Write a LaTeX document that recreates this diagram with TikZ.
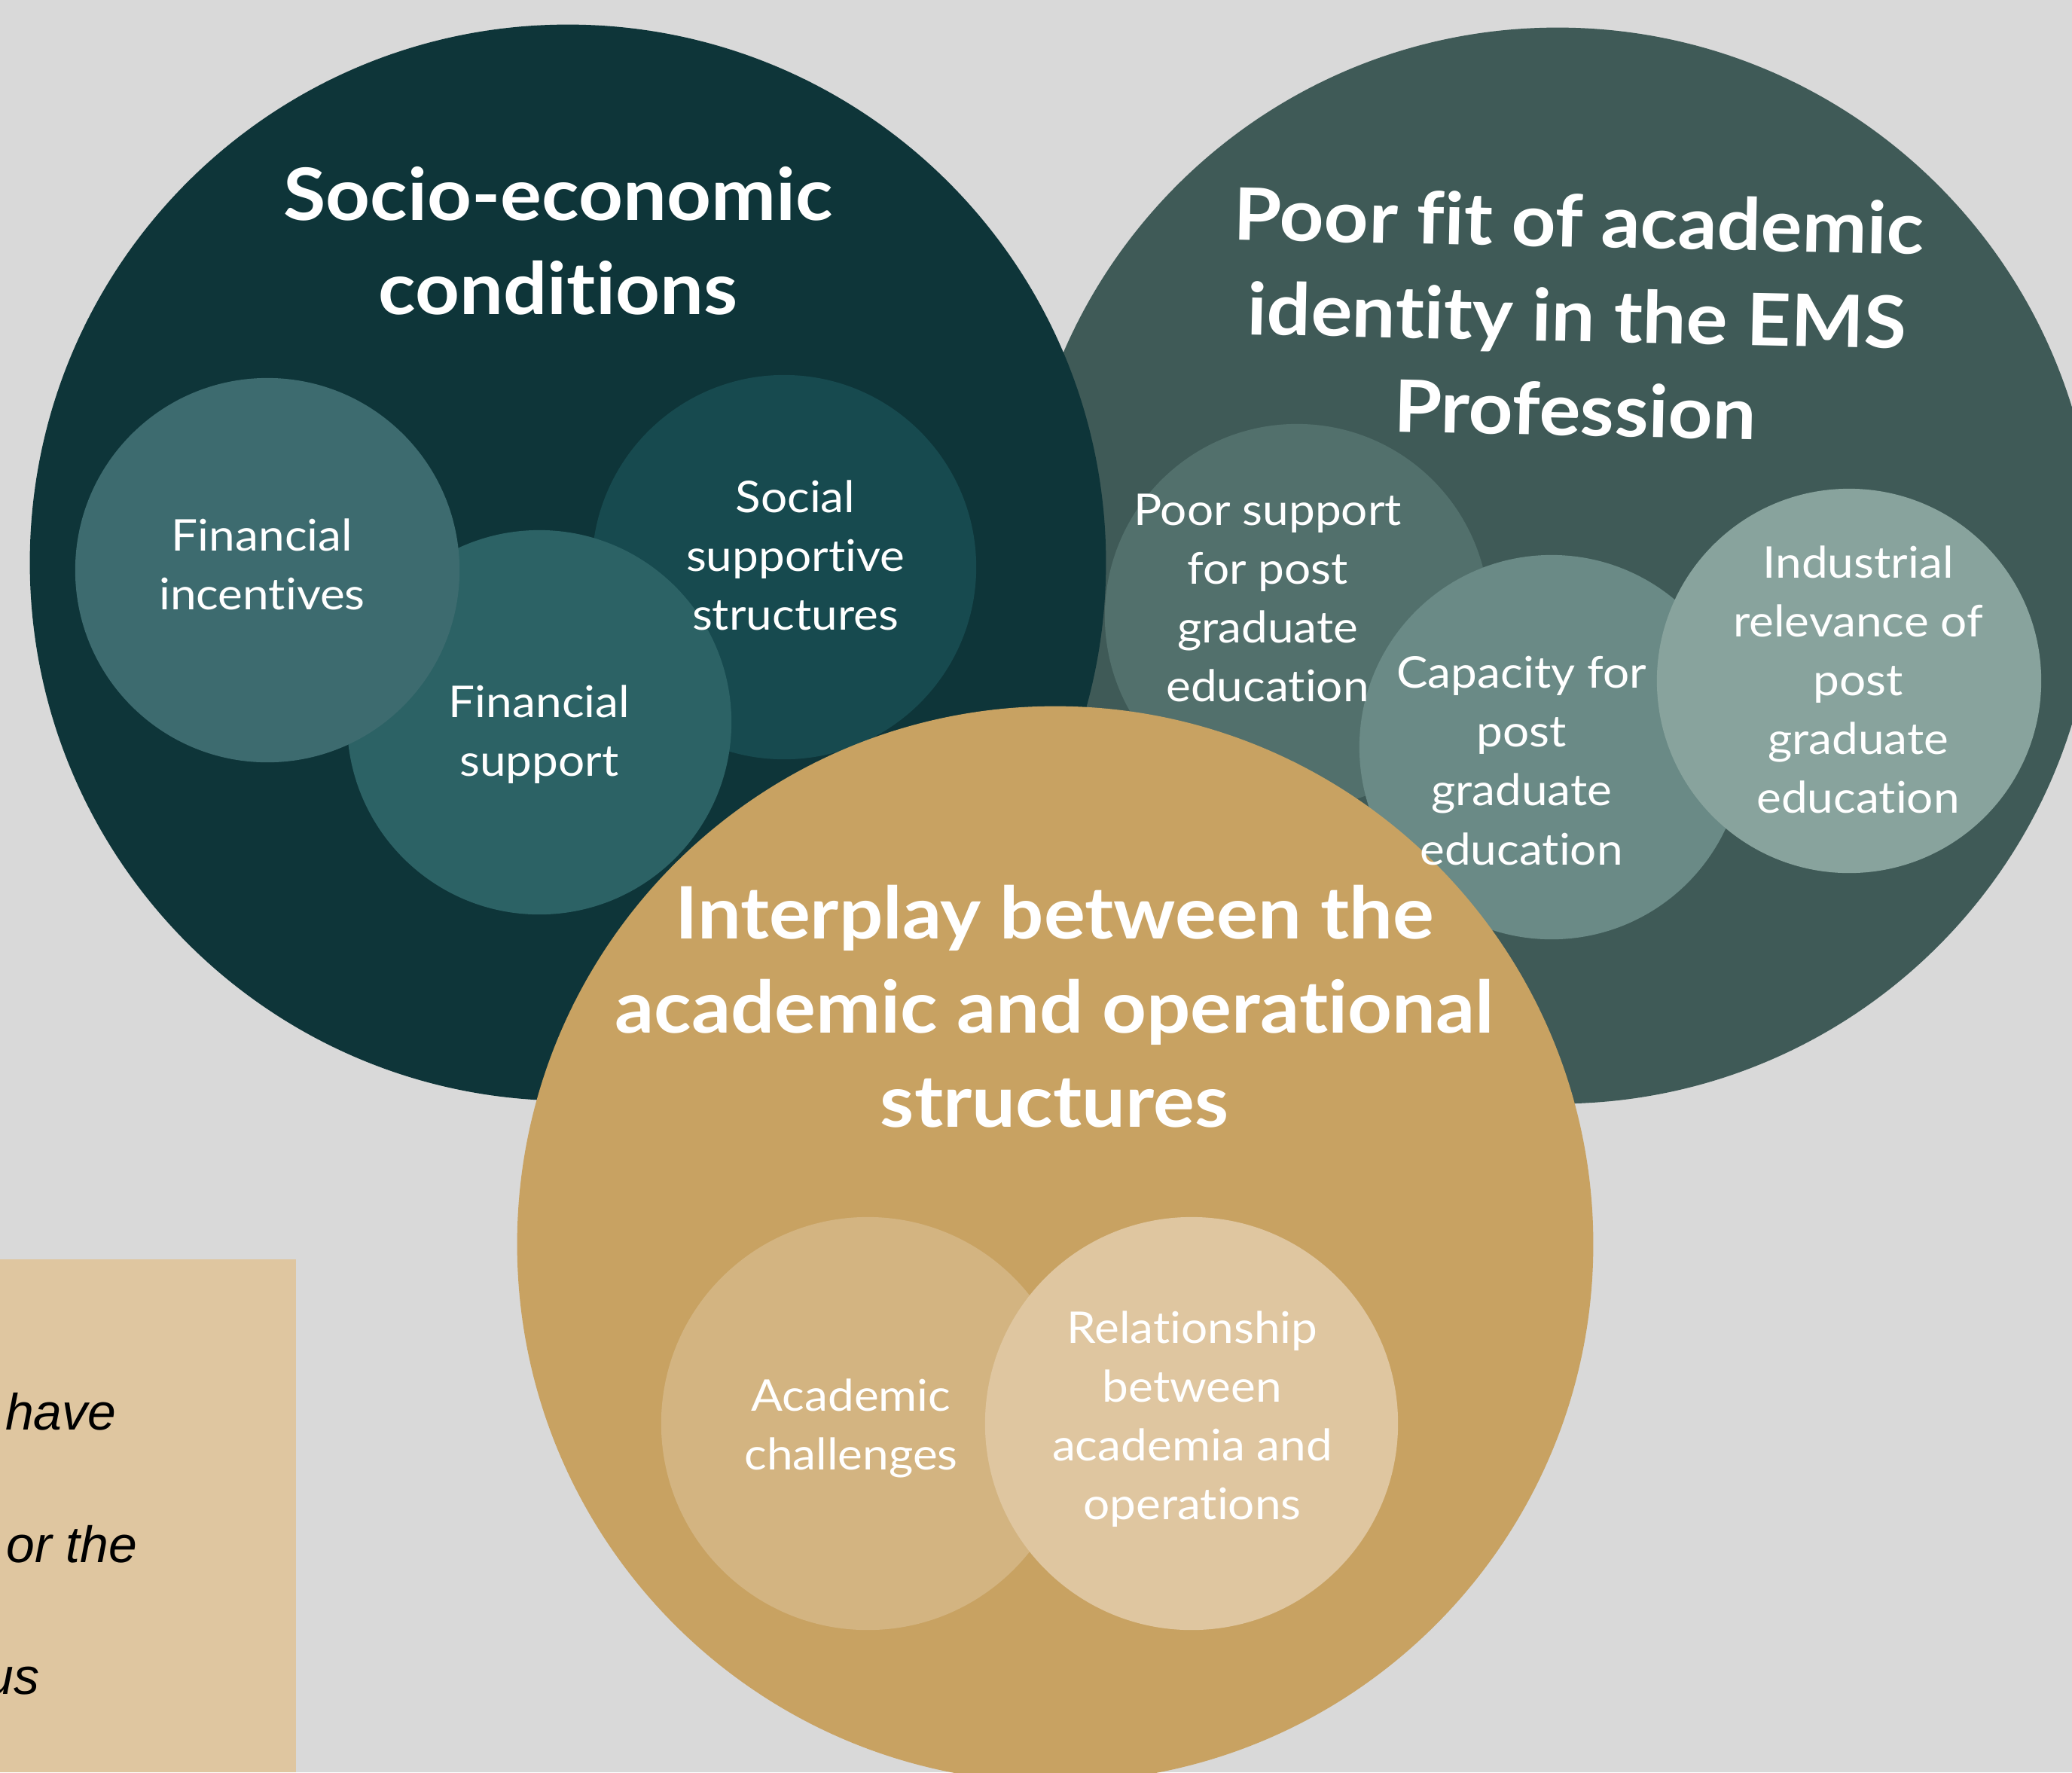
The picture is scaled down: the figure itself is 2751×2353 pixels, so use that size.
\documentclass[tikz,border=0pt]{standalone}
\usepackage{fontspec}
\setmainfont{Lato}[FakeStretch=1.07,Ligatures=NoCommon]
\newfontfamily\notefont{Liberation Sans}
\usepackage{tikz}

\definecolor{paper}{HTML}{D9D9D9}
\definecolor{socio}{HTML}{0E3539}
\definecolor{poorfit}{HTML}{3F5A57}
\definecolor{interplay}{HTML}{C8A262}
\definecolor{fininc}{HTML}{3D6B6F}
\definecolor{finsup}{HTML}{2C6265}
\definecolor{social}{HTML}{174A4F}
\definecolor{poorsup}{HTML}{52706C}
\definecolor{capac}{HTML}{6A8A86}
\definecolor{indus}{HTML}{88A39D}
\definecolor{acad}{HTML}{D3B481}
\definecolor{relat}{HTML}{DFC6A0}

\begin{document}
\begin{tikzpicture}[x=0.01cm,y=-0.01cm,
  blob/.style={circle,draw=none,inner sep=0pt,minimum size=#1},
  headtxt/.style={text=white,align=center,inner sep=0pt,
    font=\bfseries\fontsize{27.3}{35.6}\selectfont},
  itemtxt/.style={text=white,align=center,inner sep=0pt,
    font=\fontsize{16.5}{22.2}\selectfont},
  notetxt/.style={text=black,inner sep=0pt,anchor=base east,
    font=\notefont\itshape\fontsize{19.3}{23}\selectfont}]

  \useasboundingbox (0,0) rectangle (2751,2353);
  \clip (0,0) rectangle (2751,2353);
  \fill[paper] (0,0) rectangle (2751,2353);

  % note box, cut at the left edge
  \fill[relat] (0,1672) rectangle (393,2353);
  \draw (155,1898) node[notetxt] (have) {have};
  \draw (183,2074) node[notetxt] (orthe) {or the};
  \draw (53,2249) node[notetxt] (us) {us};

  % the three big circles and their small ones
  \draw (2068,751) node[blob=14.28cm,fill=poorfit] (poorfit) {};
  \draw (754,747) node[blob=14.28cm,fill=socio] (socio) {};

  \draw (1041,753) node[blob=5.1cm,fill=social] (social) {};
  \draw (716,959) node[blob=5.1cm,fill=finsup] (finsup) {};
  \draw (355,757) node[blob=5.1cm,fill=fininc] (fininc) {};

  \draw (1722,818) node[blob=5.1cm,fill=poorsup] (poorsup) {};
  \draw (2060,992) node[blob=5.1cm,fill=capac] (capac) {};
  \draw (2455,904) node[blob=5.1cm,fill=indus] (indus) {};

  \draw (1401,1652) node[blob=14.28cm,fill=interplay] (interplay) {};
  \draw (1152,1890) node[blob=5.48cm,fill=acad] (acad) {};
  \draw (1582,1890) node[blob=5.48cm,fill=relat] (relat) {};

  % titles
  \draw (741,320) node[headtxt] (socio-t) {Socio-economic\\conditions};
  \draw (2094,418) node[headtxt,rotate=-1.2] (poorfit-t)
    {Poor fit of academic\\identity in the EMS\\Profession};
  \draw (1400,1336) node[headtxt] (interplay-t)
    {Interplay between the\\academic and operational\\structures};

  % labels
  \draw (348,749) node[itemtxt] (fininc-t) {Financial\\incentives};
  \draw (716,975) node[itemtxt] (finsup-t) {Financial\\support};
  \draw (1056,737) node[itemtxt] (social-t) {Social\\supportive\\structures};
  \draw (1683,794) node[itemtxt] (poorsup-t)
    {Poor support\\for post\\graduate\\education};
  \draw (2020,1010) node[itemtxt] (capac-t)
    {Capacity for\\post\\graduate\\education};
  \draw (2467,902) node[itemtxt] (indus-t)
    {Industrial\\relevance of\\post\\graduate\\education};
  \draw (1130,1896) node[itemtxt] (acad-t) {Academic\\challenges};
  \draw (1583,1884) node[itemtxt] (relat-t)
    {Relationship\\between\\academia and\\operations};

\end{tikzpicture}
\end{document}
